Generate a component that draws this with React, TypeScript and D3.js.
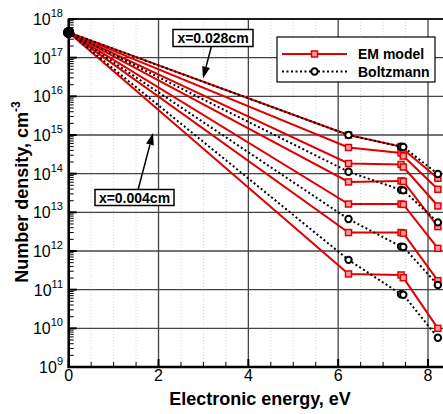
import React from 'react';
import * as d3 from 'd3';

// electronic energy levels (eV)
const energies = [0, 6.23, 7.4, 7.45, 8.22];

// EM model, x = 0.004 ... 0.028 cm
const em0004 = [4.5e17, 2.55e11, 2.4e11, 2.04e11, 1.0e10];
const em0008 = [4.5e17, 3.0e12, 3.0e12, 2.9e12, 1.71e11];
const em0012 = [4.5e17, 1.64e13, 1.64e13, 1.6e13, 1.17e12];
const em0016 = [4.5e17, 6.1e13, 6.5e13, 6.3e13, 4.27e12];
const em0020 = [4.5e17, 1.83e14, 1.73e14, 1.49e14, 1.46e13];
const em0024 = [4.5e17, 4.75e14, 3.43e14, 2.86e14, 3.94e13];
const em0028 = [4.5e17, 1.0e15, 5.0e14, 4.3e14, 7.6e13];

// Boltzmann distributions
const bz0004 = [4.5e17, 5.9e11, 7.6e10, 7.4e10, 5.7e9];
const bz0012 = [4.5e17, 6.7e12, 1.3e12, 1.27e12, 1.32e11];
const bz0020 = [4.5e17, 1.12e14, 3.8e13, 3.7e13, 5.5e12];
const bz0028 = [4.5e17, 1.0e15, 5.0e14, 4.9e14, 9.8e13];

const emSeries = [em0004, em0008, em0012, em0016, em0020, em0024, em0028];
const bzSeries = [bz0004, bz0012, bz0020, bz0028];

const xTicks = [0, 2, 4, 6, 8];
const yExponents = [9, 10, 11, 12, 13, 14, 15, 16, 17, 18];

const legendLabels = ['EM model', 'Boltzmann'];
const annotations = ['x=0.028cm', 'x=0.004cm'];

const W = 443;
const H = 414;
const FONT = 'Liberation Sans, Arial, Helvetica, sans-serif';
const RED = '#e00000';

const x = d3.scaleLinear().domain([0, 8]).range([68.7, 428]);
const y = d3.scaleLog().domain([1e9, 1e18]).range([367, 19]);
const xMax = 8.4;

const line = d3
  .line<number>()
  .x((_, i) => x(energies[i]))
  .y((d) => y(d));

const Arrow = ({ x1, y1, x2, y2 }: { x1: number; y1: number; x2: number; y2: number }) => {
  const a = Math.atan2(y2 - y1, x2 - x1);
  const len = 12;
  const w = 4;
  const bx = x2 - len * Math.cos(a);
  const by = y2 - len * Math.sin(a);
  const px = -Math.sin(a) * w;
  const py = Math.cos(a) * w;
  return (
    <g>
      <line x1={x1} y1={y1} x2={bx} y2={by} stroke="#000" strokeWidth={1.5} />
      <polygon points={`${x2},${y2} ${bx + px},${by + py} ${bx - px},${by - py}`} fill="#000" />
    </g>
  );
};

const Square = ({ cx, cy }: { cx: number; cy: number }) => (
  <rect x={cx - 3} y={cy - 3} width={6} height={6} fill="#f4a0a0" stroke={RED} strokeWidth={1.5} />
);

const Circle = ({ cx, cy, solid }: { cx: number; cy: number; solid?: boolean }) => (
  <circle cx={cx} cy={cy} r={solid ? 4.5 : 3.2} fill={solid ? '#000' : '#fff'} stroke="#000" strokeWidth={2} />
);

const App = () => {
  const left = x(0);
  const right = x(xMax);
  const top = y(1e18);
  const bottom = y(1e9);

  const minorX = d3.range(0, xMax + 0.01, 0.5).filter((v) => v % 2 !== 0);
  const minorY: number[] = [];
  yExponents.slice(0, -1).forEach((e) => {
    for (let k = 2; k <= 9; k++) minorY.push(k * Math.pow(10, e));
  });

  return (
    <svg
      width={W}
      height={H}
      style={{ position: 'absolute', left: 0, top: 0, background: '#fff' }}
      fontFamily={FONT}
    >
      <defs>
        <clipPath id="plot">
          <rect x={left - 8} y={top - 8} width={right - left + 16} height={bottom - top + 16} />
        </clipPath>
      </defs>

      {/* faint minor grid */}
      {minorX.map((v) => (
        <line key={'mg' + v} x1={x(v)} x2={x(v)} y1={top} y2={bottom} stroke="#ccc" strokeWidth={0.8} strokeDasharray="1,2" />
      ))}

      {/* major grid */}
      {xTicks.map((v) => (
        <line key={'gx' + v} x1={x(v)} x2={x(v)} y1={top} y2={bottom} stroke="#444" strokeWidth={1.3} />
      ))}
      {yExponents.map((e) => (
        <line key={'gy' + e} x1={left} x2={right} y1={y(Math.pow(10, e))} y2={y(Math.pow(10, e))} stroke="#444" strokeWidth={1.3} />
      ))}

      {/* ticks */}
      {minorX.map((v) => (
        <line key={'tx' + v} x1={x(v)} x2={x(v)} y1={bottom} y2={bottom - 5} stroke="#000" strokeWidth={1} />
      ))}
      {xTicks.map((v) => (
        <line key={'TX' + v} x1={x(v)} x2={x(v)} y1={bottom} y2={bottom - 8} stroke="#000" strokeWidth={2} />
      ))}
      {minorY.map((v, i) => (
        <line key={'ty' + i} x1={left} x2={left + 5} y1={y(v)} y2={y(v)} stroke="#000" strokeWidth={1} />
      ))}
      {yExponents.map((e) => (
        <line key={'TY' + e} x1={left} x2={left + 8} y1={y(Math.pow(10, e))} y2={y(Math.pow(10, e))} stroke="#000" strokeWidth={2} />
      ))}

      {/* frame */}
      <rect x={left} y={top} width={right - left} height={bottom - top} fill="none" stroke="#000" strokeWidth={1.5} />
      <line x1={left} x2={left} y1={top} y2={bottom + 1} stroke="#000" strokeWidth={2.5} />
      <line x1={left - 1} x2={right} y1={bottom} y2={bottom} stroke="#000" strokeWidth={2.5} />

      {/* EM model + Boltzmann */}
      <g clipPath="url(#plot)">
        {emSeries.map((s, i) => (
          <path key={'em' + i} d={line(s) || ''} fill="none" stroke={RED} strokeWidth={2} />
        ))}
        {emSeries.map((s, i) =>
          s.map((v, j) => <Square key={'sq' + i + '-' + j} cx={x(energies[j])} cy={y(v)} />)
        )}
        {bzSeries.map((s, i) => (
          <path key={'bz' + i} d={line(s) || ''} fill="none" stroke="#000" strokeWidth={2} strokeDasharray="2,2.5" />
        ))}
        {bzSeries.map((s, i) =>
          s.map((v, j) => <Circle key={'ci' + i + '-' + j} cx={x(energies[j])} cy={y(v)} solid={j === 0} />)
        )}
      </g>

      {/* tick labels */}
      {xTicks.map((v) => (
        <text key={'lx' + v} x={x(v)} y={381} fontSize={16} textAnchor="middle" fill="#000">
          {v}
        </text>
      ))}
      {yExponents.map((e) => (
        <text key={'ly' + e} x={63} y={y(Math.pow(10, e)) + 6} fontSize={16} textAnchor="end" fill="#000">
          <tspan>10</tspan>
          <tspan fontSize={11} dy={-8}>
            {e}
          </tspan>
        </text>
      ))}

      {/* axis titles */}
      <text x={260} y={405} fontSize={18} fontWeight="bold" textAnchor="middle">
        Electronic energy, eV
      </text>
      <text transform="translate(28,192) rotate(-90)" fontSize={18} fontWeight="bold" textAnchor="middle">
        Number density, cm
        <tspan fontSize={12} dy={-8}>
          -3
        </tspan>
      </text>

      {/* legend */}
      <rect x={277} y={37} width={158} height={45} fill="#fff" stroke="#000" strokeWidth={1.2} />
      <line x1={282} x2={347} y1={54} y2={54} stroke={RED} strokeWidth={2} />
      <Square cx={314.5} cy={54} />
      <line x1={282} x2={347} y1={71.5} y2={71.5} stroke="#000" strokeWidth={2} strokeDasharray="2,2.5" />
      <Circle cx={314.5} cy={71.5} />
      <text x={358} y={59} fontSize={14} fontWeight="bold">
        {legendLabels[0]}
      </text>
      <text x={358} y={76.5} fontSize={14} fontWeight="bold">
        {legendLabels[1]}
      </text>

      {/* annotations */}
      <Arrow x1={211.5} y1={46} x2={203} y2={78.5} />
      <rect x={173} y={29.5} width={80} height={17} fill="#fff" stroke="#000" strokeWidth={1.5} />
      <text x={213} y={43} fontSize={14} fontWeight="bold" textAnchor="middle">
        {annotations[0]}
      </text>

      <Arrow x1={138} y1={190} x2={153} y2={133} />
      <rect x={95} y={189.5} width={79} height={16} fill="#fff" stroke="#000" strokeWidth={1.5} />
      <text x={134.5} y={202.5} fontSize={14} fontWeight="bold" textAnchor="middle">
        {annotations[1]}
      </text>
    </svg>
  );
};

export default App;
